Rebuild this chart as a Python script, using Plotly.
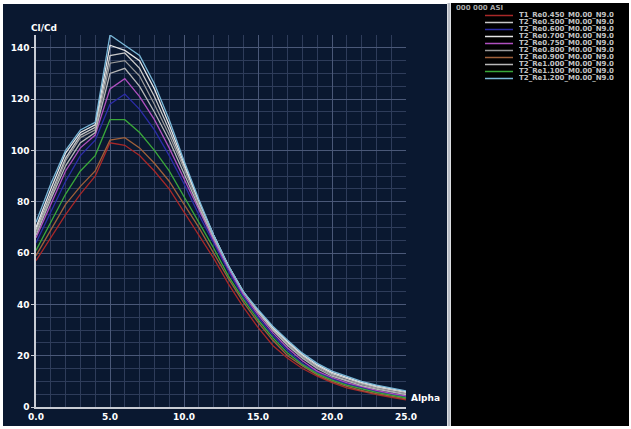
import plotly.graph_objects as go

alpha = list(range(0, 26))

names = [
    "T1_Re0.450_M0.00_N9.0",
    "T2_Re0.500_M0.00_N9.0",
    "T2_Re0.600_M0.00_N9.0",
    "T2_Re0.700_M0.00_N9.0",
    "T2_Re0.750_M0.00_N9.0",
    "T2_Re0.800_M0.00_N9.0",
    "T2_Re0.900_M0.00_N9.0",
    "T2_Re1.000_M0.00_N9.0",
    "T2_Re1.100_M0.00_N9.0",
    "T2_Re1.200_M0.00_N9.0",
]

colors = ["#a82828", "#c8c8c8", "#2c2ca8", "#e6e6e6", "#b050c0",
          "#9a9a9a", "#a0603a", "#b8b8b8", "#3aa83a", "#7ab8d8"]

s1 = [57, 66, 75, 83, 90, 103, 102, 98, 92, 85, 76, 67, 58, 48, 39, 31, 24, 19, 15, 12, 9.5, 7.5, 6, 4.8, 3.8, 2.8]
s2 = [69, 83, 97, 106, 109, 137, 138, 132, 121, 108, 94, 80, 67, 55, 45, 37, 30.5, 25, 20, 16, 13, 11, 9.2, 7.8, 6.6, 5.6]
s3 = [64, 76, 88, 98, 104, 118, 122, 116, 108, 98, 87, 75, 64, 53, 43, 35, 28, 22, 17, 13.5, 11, 9, 7.5, 6, 5, 4]
s4 = [70, 85, 99, 107, 110, 141, 139, 135, 124, 110, 95, 80, 67, 55, 45, 37.5, 31, 25.5, 20.5, 16.5, 13.5, 11.5, 9.6, 8.2, 7, 6]
s5 = [66, 79, 92, 101, 106, 124, 128, 121, 112, 101, 89, 77, 65, 54, 44, 36, 29, 23, 18, 14, 11.5, 9.5, 8, 6.5, 5.3, 4.3]
s6 = [68, 82, 96, 105, 108, 134, 135, 129, 118, 106, 93, 79, 66, 55, 45, 37, 30, 24.5, 19.5, 15.5, 12.5, 10.5, 8.8, 7.4, 6.2, 5.2]
s7 = [59, 69, 79, 86, 92, 104, 105, 101, 95, 88, 79, 70, 60, 50, 41, 33, 26, 20, 16, 12.5, 10, 8, 6.5, 5.2, 4.2, 3.2]
s8 = [67, 81, 94, 103, 107, 130, 132, 125, 115, 104, 91, 78, 66, 55, 45, 37, 30, 24, 19, 15, 12, 10, 8.3, 7, 5.8, 4.8]
s9 = [61, 72, 83, 92, 98, 112, 112, 107, 100, 92, 82, 72, 62, 51, 42, 34, 27, 21, 16.5, 13, 10.5, 8.5, 7, 5.7, 4.6, 3.6]
s10 = [72, 87, 100, 108, 111, 145, 141, 137, 126, 112, 96, 81, 67, 55, 45, 38, 31.5, 26, 21, 17, 14, 12, 10, 8.5, 7.3, 6.3]

series = [s1, s2, s3, s4, s5, s6, s7, s8, s9, s10]

x_ticks = [0, 5, 10, 15, 20, 25]
y_ticks = [0, 20, 40, 60, 80, 100, 120, 140]

NAVY = "#0a1830"

fig = go.Figure()
for nm, c, ys in zip(names, colors, series):
    fig.add_trace(go.Scatter(x=alpha, y=ys, mode="lines", name=nm,
                             line=dict(color=c, width=1.3), showlegend=False))

# pixel -> paper helpers (plot area: x 36..406, y 35..407)
L, R, T, B = 36, 406, 35, 407
W, H = R - L, B - T
def px(x):
    return (x - L) / W
def py(y):
    return (B - y) / H

shapes = [
    dict(type="rect", xref="paper", yref="paper", x0=px(3), x1=px(447), y0=py(426), y1=py(4),
         fillcolor=NAVY, line=dict(width=0), layer="below"),
    dict(type="rect", xref="paper", yref="paper", x0=px(447.5), x1=px(450.5), y0=py(426), y1=py(3),
         fillcolor="#b8bcc4", line=dict(width=0), layer="below"),
    dict(type="rect", xref="paper", yref="paper", x0=px(451), x1=px(629), y0=py(426), y1=py(3),
         fillcolor="#000000", line=dict(width=0), layer="below"),
]

annotations = [
    dict(text="<b>Cl/Cd</b>", xref="paper", yref="paper", x=px(29), y=py(28),
         xanchor="left", yanchor="middle", showarrow=False,
         font=dict(family="DejaVu Sans", size=9, color="#ffffff")),
    dict(text="<b>Alpha</b>", xref="paper", yref="paper", x=px(409), y=py(398),
         xanchor="left", yanchor="middle", showarrow=False,
         font=dict(family="DejaVu Sans", size=9, color="#ffffff")),
    dict(text="<b>000 000 ASI</b>", xref="paper", yref="paper", x=px(455), y=py(8.5),
         xanchor="left", yanchor="middle", showarrow=False, borderpad=0, height=7,
         valign="bottom",
         font=dict(family="DejaVu Sans", size=7, color="#a8a8a8")),
]

for i, (nm, c) in enumerate(zip(names, colors)):
    yy = 15.5 + 7.0 * i
    shapes.append(dict(type="line", xref="paper", yref="paper", x0=px(485), x1=px(513),
                       y0=py(yy), y1=py(yy), line=dict(color=c, width=1.5)))
    annotations.append(dict(text="<b>" + nm + "</b>", xref="paper", yref="paper",
                            x=px(518), y=py(yy), xanchor="left", yanchor="middle",
                            showarrow=False, borderpad=0, height=7, valign="bottom",
                            font=dict(family="DejaVu Sans", size=7, color="#c4c4c4")))

axis_font = dict(family="DejaVu Sans", size=9, color="#ffffff")

fig.update_layout(
    width=631, height=429,
    margin=dict(l=L, r=631 - R, t=T, b=429 - B, pad=0),
    paper_bgcolor="#ffffff",
    plot_bgcolor=NAVY,
    shapes=shapes,
    annotations=annotations,
    xaxis=dict(range=[0, 25], tickvals=x_ticks, ticktext=[f"<b>{v:.1f}</b>" for v in x_ticks],
               tickfont=axis_font, showline=True, linecolor="#c8ccd4", linewidth=1.5,
               showgrid=True, gridcolor="#4a5878", gridwidth=1, zeroline=False,
               automargin=False, ticks="",
               minor=dict(dtick=1, showgrid=True, gridcolor="#2e3c5a", gridwidth=1)),
    yaxis=dict(range=[0, 145], tickvals=y_ticks, ticktext=[f"<b>{v}</b>" for v in y_ticks],
               tickfont=axis_font, showline=True, linecolor="#c8ccd4", linewidth=1.5,
               showgrid=True, gridcolor="#4a5878", gridwidth=1, zeroline=False,
               automargin=False, ticks="outside", ticklen=3, tickcolor="#c8ccd4",
               minor=dict(dtick=5, showgrid=True, gridcolor="#2e3c5a", gridwidth=1)),
)

fig.write_html("out.html", config={"displayModeBar": False},
               post_script="document.body.style.margin='0';document.body.style.padding='0';")
